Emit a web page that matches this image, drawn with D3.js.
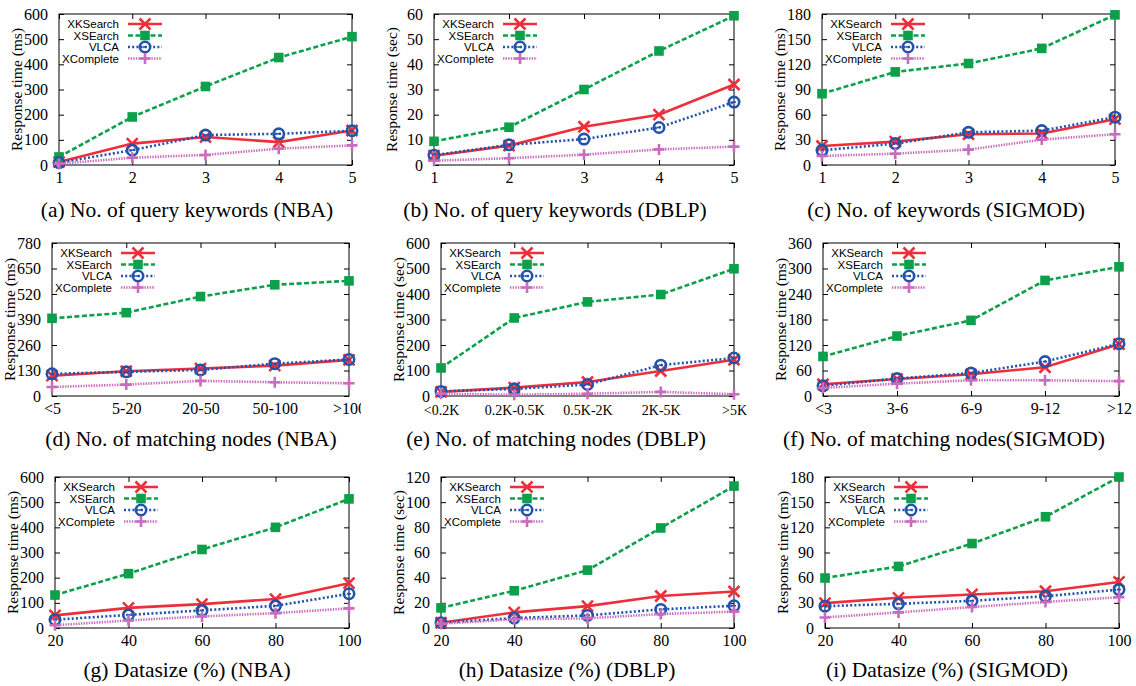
<!DOCTYPE html>
<html><head><meta charset="utf-8">
<script src="https://cdn.jsdelivr.net/npm/d3@7"></script>
<style>body{margin:0;background:#fff}</style>
</head><body><svg id="c" width="1136" height="686"></svg>
<script>
// ---------- data ----------
const seriesNames = ["XKSearch", "XSEarch", "VLCA", "XComplete"];

const xKeywords    = ["1", "2", "3", "4", "5"];
const xNodesNBA    = ["<5", "5-20", "20-50", "50-100", ">100"];
const xNodesDBLP   = ["<0.2K", "0.2K-0.5K", "0.5K-2K", "2K-5K", ">5K"];
const xNodesSIGMOD = ["<3", "3-6", "6-9", "9-12", ">12"];
const xDatasize    = ["20", "40", "60", "80", "100"];

// each: [XKSearch, XSEarch, VLCA, XComplete]
const valuesA = [[12, 85, 111, 91, 137], [32, 191, 312, 427, 510], [9, 59, 119, 124, 136], [5, 29, 40, 65, 78]];
const valuesB = [[3.7, 7.7, 15.2, 20, 32], [9.4, 15, 30, 45.3, 59.3], [3.9, 8, 10.3, 14.9, 25], [1.7, 2.7, 4.1, 6.2, 7.3]];
const valuesC = [[22.7, 27.9, 36.7, 37.5, 54.6], [85, 111, 121, 139, 179], [17.5, 25.5, 39, 41, 57], [10.8, 13.5, 18.3, 30.3, 36.7]];
const valuesD = [[104, 126, 140, 155, 184], [396, 425, 507, 567, 587], [113, 123, 133, 165, 186], [46, 58, 77, 70, 65]];
const valuesE = [[16, 33, 55, 98, 142], [110, 306, 369, 398, 499], [18, 28, 45, 121, 149], [9, 5, 9, 16, 7]];
const valuesF = [[27.6, 40, 51, 67.7, 122], [93, 141, 178, 272, 304], [24, 41, 54, 81, 123], [19, 29, 37, 37, 35]];
const valuesG = [[50, 80, 95, 115, 178], [131, 216, 312, 400, 513], [33, 52, 70, 88, 136], [11, 30, 46, 59, 78]];
const valuesH = [[4.2, 12.4, 17.4, 25.4, 29], [16, 29.6, 46, 79.5, 112.8], [4.2, 7.9, 10, 14.8, 17.7], [3.4, 6.9, 7.7, 11.1, 13]];
const valuesI = [[29.6, 36, 40, 43.8, 54.9], [59.6, 73.4, 100.7, 132.6, 180], [26, 28.8, 32.4, 37.9, 45.8], [12.6, 18.6, 25, 31, 36.7]];

const yMaxes = [600, 60, 180, 780, 600, 360, 600, 120, 180];
const ySteps = [100, 10, 30, 130, 100, 60, 100, 20, 30];
const yUnits = ["ms", "sec", "ms", "ms", "sec", "ms", "ms", "sec", "ms"];
const captions = [
  "(a) No. of query keywords (NBA)",
  "(b) No. of query keywords (DBLP)",
  "(c) No. of keywords (SIGMOD)",
  "(d) No. of matching nodes (NBA)",
  "(e) No. of matching nodes (DBLP)",
  "(f) No. of matching nodes(SIGMOD)",
  "(g) Datasize (%) (NBA)",
  "(h) Datasize (%) (DBLP)",
  "(i) Datasize (%) (SIGMOD)"
];
const xCats = [xKeywords, xKeywords, xKeywords, xNodesNBA, xNodesDBLP, xNodesSIGMOD, xDatasize, xDatasize, xDatasize];
const allValues = [valuesA, valuesB, valuesC, valuesD, valuesE, valuesF, valuesG, valuesH, valuesI];

// ---------- layout (positions / styles) ----------
const layout = [
  {l: 59,  r: 352,  t: 14,  b: 165, cx: 187, cy: 217},
  {l: 434, r: 734,  t: 14,  b: 165, cx: 555, cy: 217},
  {l: 822, r: 1115, t: 14,  b: 165, cx: 946, cy: 217},
  {l: 52,  r: 349,  t: 243, b: 396, cx: 191, cy: 446, clipR: 361},
  {l: 441, r: 734,  t: 243, b: 396, cx: 556, cy: 446, xfs: 14},
  {l: 823, r: 1119, t: 243, b: 396, cx: 944, cy: 446},
  {l: 55,  r: 349,  t: 477, b: 628, cx: 187, cy: 677},
  {l: 441, r: 734,  t: 477, b: 628, cx: 567, cy: 677},
  {l: 825, r: 1119, t: 477, b: 628, cx: 947, cy: 677}
];
const styles = [
  {color: "#ec2f3b", dash: null,  width: 2.6, marker: "x"},
  {color: "#0ca04a", dash: "5,2.5", width: 2.6, marker: "sq"},
  {color: "#2153ad", dash: "2,2.2", width: 2.6, marker: "circ"},
  {color: "#c96cbd", dash: "1.4,1.2", width: 2.6, marker: "plus"}
];

const svg = d3.select("#c");
const SERIF = "'Liberation Serif','Times New Roman',serif";
const SANS = "'Liberation Sans',Arial,sans-serif";

function drawMarker(g, type, x, y, color) {
  if (type === "x") {
    const s = 5.5;
    g.append("path").attr("d", `M${x-s},${y-s}L${x+s},${y+s}M${x-s},${y+s}L${x+s},${y-s}`)
      .attr("stroke", color).attr("stroke-width", 2.6).attr("fill", "none");
  } else if (type === "sq") {
    const s = 4.8;
    g.append("rect").attr("x", x-s).attr("y", y-s).attr("width", 2*s).attr("height", 2*s).attr("fill", color);
  } else if (type === "circ") {
    g.append("circle").attr("cx", x).attr("cy", y).attr("r", 5.2)
      .attr("stroke", color).attr("stroke-width", 2.6).attr("fill", "none");
    g.append("path").attr("d", `M${x-2},${y}L${x+2},${y}`).attr("stroke", color).attr("stroke-width", 1.6);
  } else {
    const s = 5.5;
    g.append("path").attr("d", `M${x-s},${y}L${x+s},${y}M${x},${y-s}L${x},${y+s}`)
      .attr("stroke", color).attr("stroke-width", 2.6).attr("fill", "none");
  }
}

layout.forEach((L, i) => {
  const g = svg.append("g");
  const cats = xCats[i];
  const x = d3.scalePoint().domain(cats).range([L.l, L.r]).padding(0);
  const y = d3.scaleLinear().domain([0, yMaxes[i]]).range([L.b, L.t]);
  const yt = d3.range(0, yMaxes[i] + 0.001, ySteps[i]);
  const tick = 5;

  const yAxisL = d3.axisLeft(y).tickValues(yt).tickSize(-tick).tickPadding(6 + tick);
  const gl = g.append("g").attr("transform", `translate(${L.l},0)`).call(yAxisL);
  const yAxisR = d3.axisRight(y).tickValues(yt).tickSize(-tick).tickFormat("");
  const gr = g.append("g").attr("transform", `translate(${L.r},0)`).call(yAxisR);
  const xAxisB = d3.axisBottom(x).tickSize(-tick).tickPadding((L.xfs ? 4 : 2) + tick);
  const gb = g.append("g").attr("transform", `translate(0,${L.b})`).call(xAxisB);
  const xAxisT = d3.axisTop(x).tickSize(-tick).tickFormat("");
  const gt = g.append("g").attr("transform", `translate(0,${L.t})`).call(xAxisT);
  [gl, gr, gb, gt].forEach(a => {
    a.select(".domain").remove();
    a.selectAll("line").attr("stroke", "#000").attr("stroke-width", 1);
    a.selectAll("text").attr("font-family", SERIF).attr("font-size", 16).attr("fill", "#000");
  });
  if (L.xfs) gb.selectAll("text").attr("font-size", L.xfs);
  if (L.clipR) {
    const id = "clip" + i;
    svg.append("clipPath").attr("id", id).append("rect").attr("x", 0).attr("y", 0).attr("width", L.clipR).attr("height", 686);
    gb.attr("clip-path", `url(#${id})`);
  }
  g.append("rect").attr("x", L.l).attr("y", L.t).attr("width", L.r - L.l).attr("height", L.b - L.t)
    .attr("fill", "none").attr("stroke", "#000").attr("stroke-width", 1);

  g.append("text").attr("transform", `translate(${L.l - 43},${(L.t + L.b) / 2}) rotate(-90)`)
    .attr("text-anchor", "middle").attr("dominant-baseline", "central")
    .attr("font-family", SERIF).attr("font-size", 15.5).text(`Response time (${yUnits[i]})`);

  const vals = allValues[i];
  vals.forEach((arr, s) => {
    const st = styles[s];
    const line = d3.line().x((d, k) => x(cats[k])).y(d => y(d));
    g.append("path").datum(arr).attr("d", line).attr("fill", "none")
      .attr("stroke", st.color).attr("stroke-width", st.width)
      .attr("stroke-dasharray", st.dash);
    arr.forEach((d, k) => drawMarker(g, st.marker, x(cats[k]), y(d), st.color));
  });

  seriesNames.forEach((n, s) => {
    const st = styles[s];
    const ly = L.t + 10 + s * 11.5;
    g.append("text").attr("x", L.l + 60).attr("y", ly).attr("text-anchor", "end")
      .attr("dominant-baseline", "central").attr("font-family", SANS).attr("font-size", 11.5).text(n);
    g.append("line").attr("x1", L.l + 69).attr("x2", L.l + 103).attr("y1", ly).attr("y2", ly)
      .attr("stroke", st.color).attr("stroke-width", st.width).attr("stroke-dasharray", st.dash);
    drawMarker(g, st.marker, L.l + 86, ly, st.color);
  });

  svg.append("text").attr("x", L.cx).attr("y", L.cy).attr("text-anchor", "middle")
    .attr("font-family", SERIF).attr("font-size", 21.5).attr("fill", "#000").text(captions[i]);
});
</script>
</body></html>
